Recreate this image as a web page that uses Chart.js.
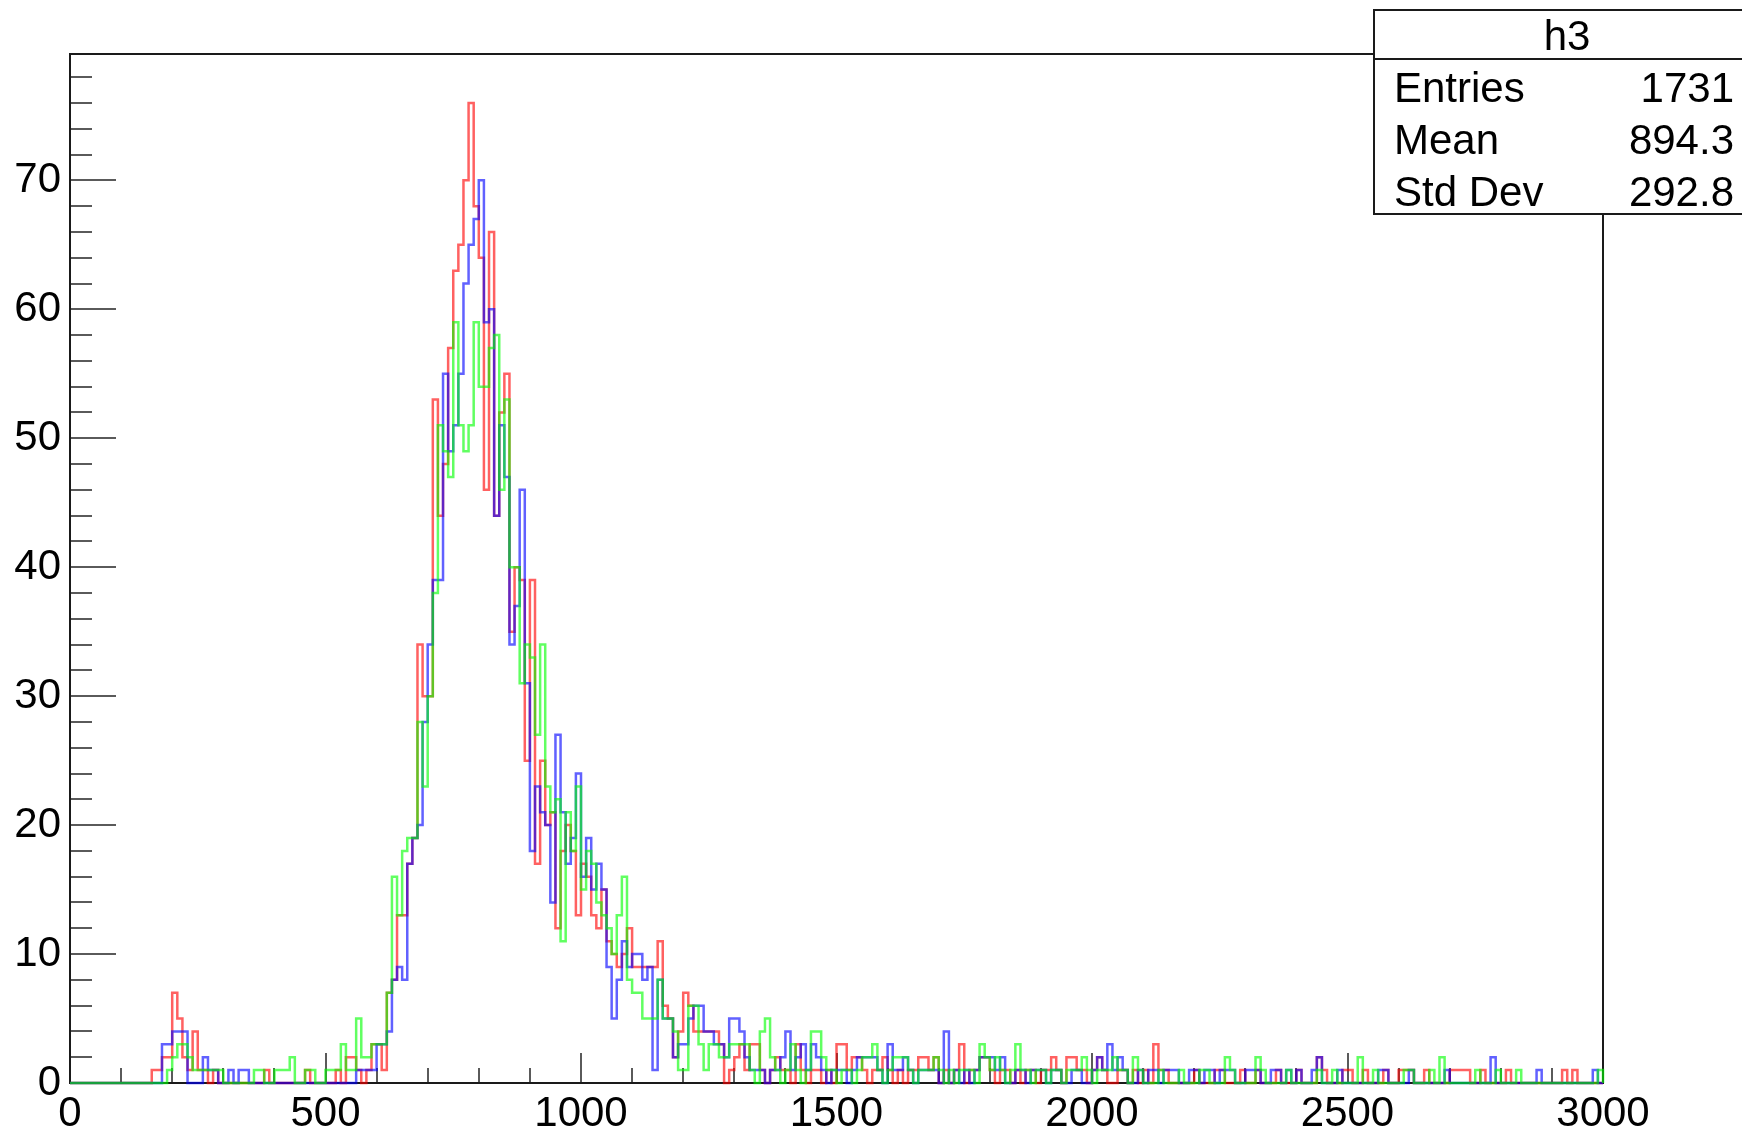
<!DOCTYPE html>
<html>
<head>
<meta charset="utf-8">
<title>h3</title>
<script src="https://cdn.jsdelivr.net/npm/chart.js@4.4.0/dist/chart.umd.min.js"></script>
<style>
    html, body { margin: 0; padding: 0; background: #fff; }
    #histChart { display: block; }
</style>
</head>
<body>
<canvas id="histChart" width="1742" height="1135"></canvas>
<script>
// ============================================
// 三組直方圖疊圖 (0 - 3000, 每格 10)
// ============================================

const xMin = 0;
const xMax = 3000;
const binWidth = 10;
const yMin = 0;
const yMax = 79.8;

// 刻度
const xMajorStep = 500;
const xMinorStep = 100;
const yMajorStep = 10;
const yMinorStep = 2;

// 每格計數 (300 格)
const redCounts = [
    0, 0, 0, 0, 0, 0, 0, 0, 0, 0, 0, 0, 0, 0, 0, 0, 1, 1, 2, 2,
    7, 5, 2, 1, 4, 1, 1, 0, 1, 0, 0, 0, 0, 0, 0, 0, 0, 0, 1, 0,
    0, 0, 0, 0, 0, 0, 1, 0, 0, 0, 0, 0, 1, 0, 2, 2, 1, 0, 1, 3,
    3, 1, 7, 8, 13, 13, 17, 19, 34, 30, 30, 53, 44, 48, 57, 63, 65, 70, 76, 68,
    64, 46, 66, 44, 52, 55, 35, 40, 39, 25, 39, 17, 25, 20, 21, 12, 18, 20, 18, 13,
    17, 16, 13, 12, 15, 11, 10, 9, 10, 12, 9, 9, 9, 9, 9, 11, 6, 5, 2, 4,
    7, 6, 4, 4, 4, 4, 4, 3, 0, 1, 2, 3, 1, 3, 3, 1, 0, 1, 2, 1,
    1, 0, 3, 1, 0, 1, 1, 0, 1, 0, 3, 3, 1, 2, 2, 1, 0, 1, 1, 2,
    1, 0, 1, 0, 1, 1, 2, 2, 1, 2, 0, 1, 0, 1, 3, 0, 1, 1, 2, 2,
    1, 0, 1, 1, 0, 1, 0, 1, 1, 0, 1, 1, 2, 1, 0, 2, 2, 1, 1, 0,
    1, 2, 1, 0, 0, 1, 1, 0, 1, 0, 1, 0, 3, 1, 1, 0, 0, 0, 0, 0,
    1, 0, 0, 0, 1, 1, 0, 0, 0, 1, 0, 0, 1, 0, 0, 0, 1, 0, 0, 0,
    1, 0, 0, 0, 2, 1, 0, 0, 0, 1, 1, 0, 0, 1, 0, 0, 0, 1, 0, 0,
    1, 1, 1, 0, 0, 1, 0, 0, 0, 0, 1, 1, 1, 1, 0, 0, 1, 0, 0, 0,
    0, 1, 0, 0, 0, 0, 0, 0, 0, 0, 0, 0, 1, 0, 1, 0, 0, 0, 0, 0
];

const blueCounts = [
    0, 0, 0, 0, 0, 0, 0, 0, 0, 0, 0, 0, 0, 0, 0, 0, 0, 0, 3, 3,
    4, 4, 4, 0, 0, 0, 2, 1, 1, 0, 0, 1, 0, 1, 1, 0, 0, 0, 0, 0,
    0, 0, 0, 0, 0, 0, 0, 0, 0, 0, 0, 0, 0, 0, 0, 0, 1, 1, 1, 1,
    3, 3, 4, 8, 9, 8, 17, 19, 20, 28, 34, 39, 39, 55, 49, 51, 55, 62, 65, 67,
    70, 59, 60, 44, 51, 47, 34, 37, 46, 31, 18, 23, 21, 20, 14, 27, 21, 17, 19, 24,
    16, 19, 15, 17, 15, 9, 5, 8, 11, 9, 10, 10, 8, 9, 1, 8, 5, 5, 2, 3,
    3, 5, 6, 6, 4, 4, 3, 3, 2, 5, 5, 4, 2, 1, 1, 1, 0, 1, 1, 2,
    4, 1, 2, 3, 1, 3, 2, 1, 0, 1, 1, 1, 0, 1, 2, 2, 2, 2, 1, 0,
    3, 1, 1, 2, 1, 0, 1, 1, 1, 1, 0, 4, 0, 1, 0, 1, 0, 1, 2, 2,
    2, 1, 2, 0, 0, 1, 1, 0, 1, 1, 1, 0, 1, 1, 0, 0, 1, 1, 0, 0,
    1, 2, 1, 3, 1, 2, 1, 0, 0, 1, 0, 1, 1, 0, 1, 1, 1, 0, 0, 1,
    1, 0, 1, 1, 0, 1, 1, 1, 0, 0, 1, 1, 1, 0, 0, 1, 1, 0, 1, 0,
    1, 0, 0, 1, 2, 0, 0, 0, 1, 0, 0, 0, 0, 0, 0, 0, 1, 1, 0, 0,
    0, 0, 1, 0, 0, 0, 0, 0, 0, 1, 0, 0, 0, 0, 0, 0, 0, 0, 2, 0,
    0, 0, 0, 0, 0, 0, 0, 1, 0, 0, 0, 0, 0, 0, 0, 0, 0, 0, 1, 0
];

const greenCounts = [
    0, 0, 0, 0, 0, 0, 0, 0, 0, 0, 0, 0, 0, 0, 0, 0, 0, 0, 0, 1,
    2, 3, 3, 2, 1, 1, 1, 1, 1, 1, 0, 0, 0, 0, 0, 0, 1, 1, 0, 0,
    1, 1, 1, 2, 0, 0, 1, 1, 0, 0, 1, 1, 1, 3, 1, 1, 5, 2, 2, 3,
    3, 3, 7, 16, 13, 18, 19, 19, 28, 23, 30, 38, 51, 49, 47, 59, 51, 49, 51, 59,
    54, 54, 57, 58, 46, 53, 40, 40, 31, 34, 33, 27, 34, 23, 21, 22, 11, 21, 18, 23,
    15, 18, 17, 14, 13, 12, 10, 13, 16, 8, 7, 7, 5, 5, 5, 8, 5, 5, 4, 1,
    1, 6, 6, 3, 1, 3, 3, 2, 2, 3, 3, 3, 3, 1, 0, 4, 5, 2, 1, 0,
    1, 3, 1, 0, 1, 4, 4, 2, 1, 1, 0, 1, 1, 0, 1, 2, 2, 3, 1, 0,
    1, 2, 2, 2, 1, 0, 1, 1, 1, 2, 1, 0, 1, 0, 1, 1, 1, 0, 3, 2,
    1, 2, 1, 0, 1, 3, 1, 1, 0, 1, 1, 0, 1, 1, 0, 1, 1, 1, 2, 1,
    0, 1, 1, 1, 2, 1, 1, 0, 2, 1, 0, 0, 0, 1, 0, 0, 0, 1, 0, 0,
    0, 1, 1, 0, 0, 0, 2, 1, 0, 0, 0, 0, 2, 1, 0, 0, 0, 0, 1, 0,
    0, 0, 0, 0, 1, 0, 0, 1, 0, 0, 0, 0, 2, 0, 0, 1, 0, 0, 0, 0,
    0, 1, 1, 0, 0, 0, 1, 0, 2, 0, 0, 0, 0, 0, 0, 1, 0, 0, 0, 1,
    0, 0, 0, 1, 0, 0, 0, 0, 0, 0, 0, 0, 0, 0, 0, 0, 0, 0, 0, 1
];

// 統計框
const statsTitle = 'h3';
const statsLabels = ['Entries', 'Mean', 'Std Dev'];
const statsValues = ['1731', '894.3', '292.8'];

const fontFamily = "'Liberation Sans', Arial, Helvetica, sans-serif";
const fontSize = 42;

// 把每格計數轉成階梯線的頂點 (左邊界 + 收尾回到 0)
function stepPoints(counts) {
    const pts = [{ x: xMin, y: 0 }];
    counts.forEach(function (c, i) {
        pts.push({ x: xMin + i * binWidth, y: c });
    });
    pts.push({ x: xMax, y: counts[counts.length - 1] });
    pts.push({ x: xMax, y: 0 });
    return pts;
}

function histDataset(label, counts, color, order) {
    return {
        label: label,
        data: stepPoints(counts),
        borderColor: color,
        borderWidth: 2.5,
        stepped: true,
        pointRadius: 0,
        fill: false,
        clip: 4,
        order: order
    };
}

// 外框、刻度線與統計框
const rootFrame = {
    id: 'rootFrame',
    beforeDatasetsDraw: function (chart) {
        const ctx = chart.ctx;
        const a = chart.chartArea;
        const xs = chart.scales.x;
        const ys = chart.scales.y;
        ctx.save();
        ctx.lineWidth = 2;
        ctx.strokeStyle = '#5a5a5a';
        ctx.beginPath();
        for (let v = xMin; v <= xMax; v += xMinorStep) {
            const px = Math.round(xs.getPixelForValue(v));
            const len = (v % xMajorStep === 0) ? 30 : 15;
            ctx.moveTo(px, a.bottom);
            ctx.lineTo(px, a.bottom - len);
        }
        for (let v = yMin; v <= yMax; v += yMinorStep) {
            const py = Math.round(ys.getPixelForValue(v));
            const len = (v % yMajorStep === 0) ? 46 : 22;
            ctx.moveTo(a.left, py);
            ctx.lineTo(a.left + len, py);
        }
        ctx.stroke();

        ctx.strokeStyle = '#1a1a1a';
        ctx.lineWidth = 2;
        ctx.strokeRect(a.left, a.top, a.right - a.left, a.bottom - a.top);
        ctx.restore();
    },
    afterDraw: function (chart) {
        const ctx = chart.ctx;
        const boxLeft = 1374, boxTop = 10, boxRight = 1760, boxBottom = 214;
        const headerBottom = 59;
        ctx.save();
        ctx.fillStyle = '#fff';
        ctx.fillRect(boxLeft, boxTop, boxRight - boxLeft, boxBottom - boxTop);
        ctx.strokeStyle = '#1a1a1a';
        ctx.lineWidth = 2;
        ctx.strokeRect(boxLeft, boxTop, boxRight - boxLeft, boxBottom - boxTop);
        ctx.beginPath();
        ctx.moveTo(boxLeft, headerBottom);
        ctx.lineTo(boxRight, headerBottom);
        ctx.stroke();

        ctx.fillStyle = '#000';
        ctx.font = fontSize + 'px ' + fontFamily;
        ctx.textBaseline = 'alphabetic';
        ctx.textAlign = 'center';
        ctx.fillText(statsTitle, 1567, 50);
        statsLabels.forEach(function (lbl, i) {
            const base = 102 + i * 52;
            ctx.textAlign = 'left';
            ctx.fillText(lbl, 1394, base);
            ctx.textAlign = 'right';
            ctx.fillText(statsValues[i], 1734, base);
        });
        ctx.restore();
    }
};

document.addEventListener('DOMContentLoaded', function () {
    const canvas = document.getElementById('histChart');
    new Chart(canvas, {
        type: 'line',
        data: {
            datasets: [
                histDataset('h3', greenCounts, 'rgba(0, 255, 0, 0.62)', 0),
                histDataset('h2', blueCounts, 'rgba(0, 0, 255, 0.62)', 1),
                histDataset('h1', redCounts, 'rgba(255, 0, 0, 0.62)', 2)
            ]
        },
        options: {
            responsive: false,
            devicePixelRatio: 1,
            animation: false,
            events: [],
            layout: {
                padding: { left: 0, top: 54, right: 139, bottom: 0 }
            },
            plugins: {
                legend: { display: false },
                tooltip: { enabled: false }
            },
            scales: {
                x: {
                    type: 'linear',
                    min: xMin,
                    max: xMax,
                    grid: { display: false, drawTicks: false },
                    border: { display: false },
                    ticks: {
                        stepSize: xMajorStep,
                        maxRotation: 0,
                        autoSkip: false,
                        includeBounds: false,
                        padding: 6,
                        color: '#000',
                        font: { size: fontSize, family: fontFamily },
                        callback: function (value) { return String(value); }
                    },
                    afterFit: function (scale) { scale.height = 52; }
                },
                y: {
                    type: 'linear',
                    min: yMin,
                    max: yMax,
                    grid: { display: false, drawTicks: false },
                    border: { display: false },
                    ticks: {
                        stepSize: yMajorStep,
                        autoSkip: false,
                        includeBounds: false,
                        padding: 9,
                        color: '#000',
                        font: { size: fontSize, family: fontFamily },
                        callback: function (value) { return String(value); }
                    },
                    afterFit: function (scale) { scale.width = 70; }
                }
            }
        },
        plugins: [rootFrame]
    });
});
</script>
</body>
</html>
